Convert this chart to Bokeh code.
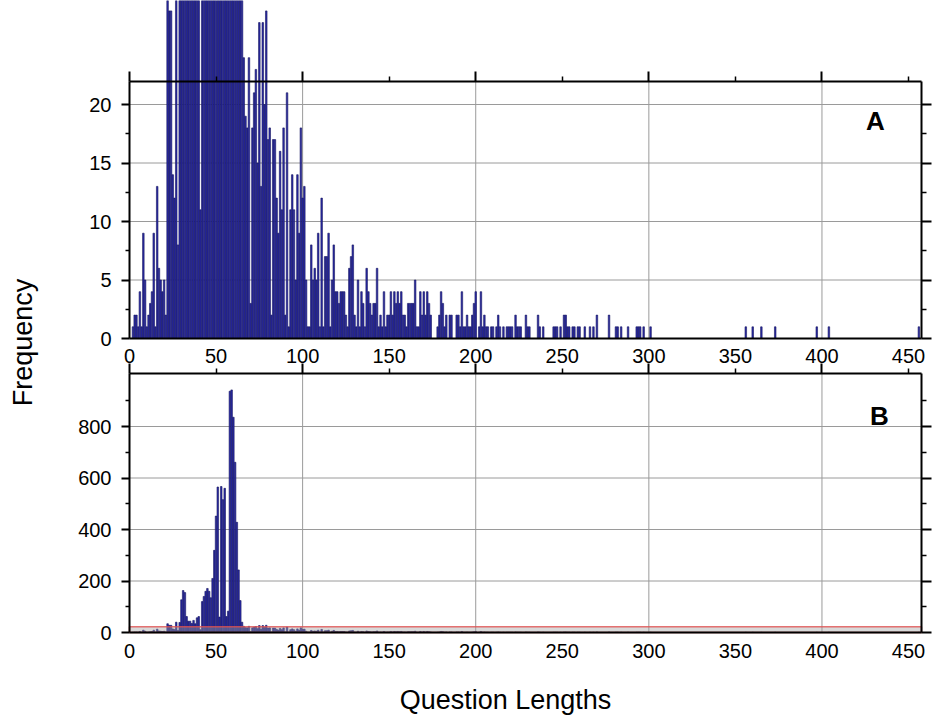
import math
from bokeh.plotting import figure
from bokeh.models import Range1d, LinearAxis, FixedTicker, Label
from bokeh.embed import file_html
from bokeh.resources import INLINE

# ---------------- data (histogram of question lengths) ----------------
lengths = [2, 3, 4, 5, 6, 7, 8, 9, 10, 11, 12, 13, 14, 15, 16, 17, 18, 19, 20, 21,
           22, 23, 24, 25, 26, 27, 28, 29, 30, 31, 32, 33, 34, 35, 36, 37, 38, 39, 40, 41,
           42, 43, 44, 45, 46, 47, 48, 49, 50, 51, 52, 53, 54, 55, 56, 57, 58, 59, 60, 61,
           62, 63, 64, 65,
           66, 67, 68, 69, 70, 71, 72, 73, 74, 75, 76, 77, 78, 79, 80, 81, 82, 83, 84, 85,
           86, 87, 88, 89, 90, 91, 92, 93, 94, 95, 96, 97, 98, 99,
           100, 101, 102, 103, 104, 105, 106, 107, 108, 109, 110, 111, 112, 113, 114, 115,
           116, 117, 118, 119, 120, 121, 122, 123, 124, 125, 126, 127, 128, 129, 130, 131,
           132, 133, 134, 135, 136, 137, 138, 139, 140, 141, 142, 143, 144, 145, 146, 147,
           148, 149, 150, 151, 152, 153, 154, 155, 156, 157, 158, 159, 160, 161, 162, 163,
           164, 165, 166, 167, 168, 169, 170, 171, 172, 173, 174,
           178, 179, 180, 181, 182, 183, 185, 186, 189, 190, 191, 192, 193, 194, 195, 196,
           197, 198, 199, 200, 202, 203, 204, 205, 206, 207, 209, 210, 212, 213, 214, 216,
           218, 219, 220, 221, 223, 224, 225, 226, 229, 230, 231, 236, 237, 239,
           245, 246, 247, 249, 251, 252, 253, 254, 256, 257, 259, 260, 263, 266, 268, 270,
           277, 281, 282, 284, 288, 293, 294, 295, 297, 301,
           356, 360, 365, 373, 397, 404, 456]
counts = [1, 2, 2, 1, 4, 1, 9, 5, 1, 2, 3, 4, 9, 1, 13, 6, 5, 4, 5, 2,
          34, 28, 28, 14, 12, 40, 8, 39, 127, 163, 155, 62, 44, 44, 35, 47, 34, 57, 62, 11,
          120, 140, 160, 171, 160, 135, 210, 319, 452, 565, 60, 567, 516, 560, 62, 83, 937, 942, 836, 661,
          428, 243, 124, 40,
          24, 19, 18, 24, 3, 18, 21, 23, 15, 27, 13, 27, 20, 28, 17, 18, 2, 17, 17, 12,
          9, 16, 11, 18, 2, 21, 1, 11, 14, 11, 5, 14, 9, 18,
          12, 13, 5, 1, 1, 8, 5, 6, 5, 9, 1, 12, 1, 7, 7, 9,
          1, 5, 8, 4, 4, 3, 4, 4, 4, 2, 1, 6, 7, 8, 2, 1,
          5, 1, 4, 3, 1, 6, 4, 3, 2, 3, 3, 6, 1, 2, 1, 4,
          1, 2, 2, 4, 2, 4, 3, 4, 3, 4, 2, 2, 1, 3, 3, 3,
          3, 5, 1, 1, 4, 2, 4, 2, 4, 3, 2,
          1, 2, 4, 3, 1, 2, 2, 2, 2, 2, 1, 4, 1, 1, 2, 1,
          1, 2, 3, 4, 1, 4, 1, 2, 1, 1, 1, 1, 1, 2, 1, 1,
          1, 1, 1, 1, 2, 1, 1, 1, 2, 1, 1, 2, 1, 1,
          1, 1, 1, 1, 2, 2, 1, 1, 1, 1, 1, 1, 1, 1, 1, 2,
          2, 1, 1, 1, 1, 1, 1, 1, 1, 1,
          1, 1, 1, 1, 1, 1, 1]

x_major = [0, 100, 200, 300, 400]
x_minor = [50, 150, 250, 350, 450]
x_labels = [0, 50, 100, 150, 200, 250, 300, 350, 400, 450]
a_major = [0, 5, 10, 15, 20]
a_minor = [2.5, 7.5, 12.5, 17.5]
b_major = [0, 200, 400, 600, 800]
b_minor = [100, 300, 500, 700, 900]
grid_x = [100, 200, 300, 400]
a_grid_y = [5, 10, 15, 20]
b_grid_y = [200, 400, 600, 800]

X_END = 457.5
A_TOP = 22      # zoom window shown in panel A
B_TOP = 1004

# ---------------- layout constants (pixels) ----------------
W, H = 932, 717
X0_PX, XEND_PX = 129, 921      # plot left / right edge
A_ZERO_PX = 338                # panel A zero line (from top)
B_ZERO_PX = 632                # panel B zero line (from top)
A_PX = 11.7                    # px per count, panel A
B_PX = 0.2575                  # px per count, panel B
X_PX = (XEND_PX - X0_PX) / X_END


def dx(px):
    return (px - X0_PX) / X_PX


def ya(py):
    return (A_ZERO_PX - py) / A_PX


def yb(py):
    return (B_ZERO_PX - py) / B_PX


FONT = "Liberation Sans"
BAR_FILL = "#2B2BA8"
BAR_LINE = "#14145C"
GRID = "#9A9A9A"

p = figure(width=W, height=H, x_range=Range1d(dx(0), dx(W)),
           y_range=Range1d(yb(H), yb(0)),
           output_backend="svg", toolbar_location=None,
           min_border_left=0, min_border_right=0, min_border_top=0, min_border_bottom=0,
           x_axis_type=None, y_axis_type=None)
p.extra_y_ranges = {"a": Range1d(ya(H), ya(0))}
p.outline_line_color = None
p.background_fill_color = "white"
p.border_fill_color = "white"

# grid lines
n = len(a_grid_y)
p.segment(x0=[0] * n, x1=[X_END] * n, y0=a_grid_y, y1=a_grid_y, y_range_name="a",
          line_color=GRID, line_width=1, level="underlay")
n = len(b_grid_y)
p.segment(x0=[0] * n, x1=[X_END] * n, y0=b_grid_y, y1=b_grid_y,
          line_color=GRID, line_width=1, level="underlay")
n = len(grid_x)
p.segment(x0=grid_x, x1=grid_x, y0=[0] * n, y1=[A_TOP] * n,
          y_range_name="a", line_color=GRID, line_width=1, level="underlay")
p.segment(x0=grid_x, x1=grid_x, y0=[0] * n, y1=[B_TOP] * n,
          line_color=GRID, line_width=1, level="underlay")

# bars: panel A (zoomed) clipped at canvas top, and panel B (full)
p.vbar(x=lengths, top=counts, bottom=0, width=0.9, y_range_name="a",
       fill_color=BAR_FILL, line_color=BAR_LINE, line_width=0.6)
p.vbar(x=lengths, top=counts, bottom=0, width=0.9,
       fill_color=BAR_FILL, line_color=BAR_LINE, line_width=0.6)

# zoom band in panel B
p.quad(left=0, right=X_END, bottom=0, top=A_TOP, fill_color="#A0A0A0", fill_alpha=0.4,
       line_color="#E05050", line_alpha=0.8, line_width=1.5)


def make_axis(fixed, ticks, minor, labels, tick_out, minor_out, standoff=8, rng=None, bounds=None):
    kw = {}
    if rng:
        kw["y_range_name"] = rng
    ax = LinearAxis(fixed_location=fixed, ticker=FixedTicker(ticks=ticks, minor_ticks=minor), **kw)
    if bounds is not None:
        ax.bounds = bounds
    ax.axis_line_width = 2
    ax.axis_line_color = "black"
    ax.major_tick_line_width = 2
    ax.minor_tick_line_width = 1.5
    ax.major_tick_in = 0
    ax.minor_tick_in = 0
    ax.major_tick_out = tick_out
    ax.minor_tick_out = minor_out
    if tick_out == 0:
        ax.major_tick_line_color = None
    if minor_out == 0:
        ax.minor_tick_line_color = None
    ax.major_label_text_font = FONT
    ax.major_label_text_color = "black"
    if labels:
        ax.major_label_text_font_size = "20px"
    else:
        ax.major_label_overrides = {t: "" for t in ticks}
        ax.major_label_text_font_size = "1px"
    ax.major_label_standoff = standoff
    return ax


# panel A axes
p.add_layout(make_axis(0, x_labels, [], True, 0, 0, 10, rng="a", bounds=(0, X_END)), "below")
p.add_layout(make_axis(A_TOP, x_major, x_minor, False, 10, 5, rng="a", bounds=(0, X_END)), "above")
p.add_layout(make_axis(0, a_major, a_minor, True, 8, 4, 10, rng="a", bounds=(0, A_TOP)), "left")
p.add_layout(make_axis(X_END, a_major, a_minor, False, 10, 5, rng="a", bounds=(0, A_TOP)), "right")

# panel B axes
p.add_layout(make_axis(0, x_labels, [], True, 0, 0, 11, bounds=(0, X_END)), "below")
p.add_layout(make_axis(B_TOP, x_major, x_minor, False, 10, 5, bounds=(0, X_END)), "above")
p.add_layout(make_axis(0, b_major, b_minor, True, 8, 4, 10, bounds=(0, B_TOP)), "left")
p.add_layout(make_axis(X_END, b_major, b_minor, False, 10, 5, bounds=(0, B_TOP)), "right")

# panel letters
p.add_layout(Label(x=dx(875), y=ya(120), y_range_name="a", text="A", text_font=FONT,
                   text_font_style="bold", text_font_size="26px", text_color="black",
                   text_align="center", text_baseline="middle"))
p.add_layout(Label(x=dx(879), y=yb(415), text="B", text_font=FONT,
                   text_font_style="bold", text_font_size="26px", text_color="black",
                   text_align="center", text_baseline="middle"))

# axis titles
p.add_layout(Label(x=dx(22), y=yb(342), text="Frequency", angle=math.pi / 2, text_font=FONT,
                   text_font_size="27px", text_color="black",
                   text_align="center", text_baseline="middle"))
p.add_layout(Label(x=dx(505), y=yb(699), text="Question Lengths", text_font=FONT,
                   text_font_size="27px", text_color="black",
                   text_align="center", text_baseline="middle"))

open("out.html", "w").write(file_html(p, INLINE))
